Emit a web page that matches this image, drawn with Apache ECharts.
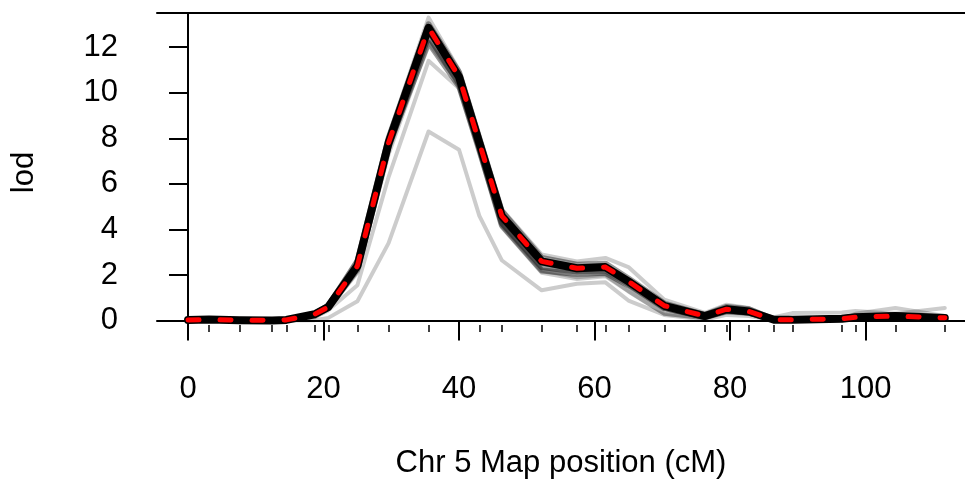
<!DOCTYPE html>
<html>
<head>
<meta charset="utf-8">
<script src="https://cdn.jsdelivr.net/npm/echarts@6/dist/echarts.min.js"></script>
<style>html,body{margin:0;padding:0;background:#fff}#c{width:965px;height:487px}</style>
</head>
<body>
<div id="c"></div>
<script>
// Marker positions (cM) on Chr 5
const positions = [0, 3.1, 7.6, 12.4, 14.5, 18.7, 20.7, 25.0, 29.6, 35.5, 40.0, 43.0, 46.3, 52.2, 57.4, 61.6, 65.0, 70.3, 76.3, 79.5, 82.8, 86.5, 89.2, 96.5, 98.5, 104.4, 111.7];
// Main LOD curve
const lodMain = [0.03, 0.05, 0.02, 0.01, 0.03, 0.28, 0.6, 2.4, 7.8, 12.85, 10.7, 7.8, 4.6, 2.6, 2.3, 2.35, 1.72, 0.65, 0.2, 0.5, 0.4, 0.04, 0.04, 0.08, 0.15, 0.2, 0.12];
// Light grey replicate curves (outliers)
const lodGrey1 = [0.0, 0.0, 0.0, 0.0, 0.0, 0.02, 0.12, 0.85, 3.4, 8.3, 7.5, 4.6, 2.65, 1.33, 1.62, 1.68, 0.88, 0.25, 0.05, 0.25, 0.2, 0.02, 0.02, 0.05, 0.08, 0.12, 0.08];
const lodGrey2 = [0.02, 0.03, 0.01, 0.0, 0.02, 0.15, 0.45, 1.55, 6.3, 11.4, 10.2, 7.3, 4.2, 2.2, 1.9, 2.0, 1.3, 0.3, 0.1, 0.35, 0.3, 0.03, 0.03, 0.06, 0.12, 0.18, 0.1];
const lodGrey3 = [0.04, 0.06, 0.03, 0.02, 0.05, 0.35, 0.7, 2.7, 8.1, 13.3, 11.0, 8.1, 4.9, 2.9, 2.6, 2.75, 2.35, 0.92, 0.34, 0.7, 0.55, 0.1, 0.1, 0.12, 0.2, 0.3, 0.15];
const lodGrey4 = [0.03, 0.05, 0.02, 0.01, 0.03, 0.28, 0.6, 2.4, 7.7, 12.6, 10.6, 7.6, 4.4, 2.5, 2.2, 2.3, 1.65, 0.6, 0.2, 0.45, 0.35, 0.15, 0.33, 0.36, 0.42, 0.3, 0.55];
const lodGrey5 = [0.02, 0.04, 0.02, 0.01, 0.02, 0.22, 0.52, 2.1, 7.3, 12.2, 10.4, 7.4, 4.1, 2.1, 1.83, 1.95, 1.28, 0.3, 0.1, 0.4, 0.3, 0.03, 0.03, 0.07, 0.3, 0.55, 0.2];
// Dark band replicate curves
const lodBand1 = [0.03, 0.05, 0.02, 0.01, 0.03, 0.3, 0.65, 2.6, 8.0, 13.0, 10.9, 8.0, 4.8, 2.75, 2.45, 2.5, 1.85, 0.75, 0.25, 0.6, 0.5, 0.05, 0.05, 0.1, 0.18, 0.24, 0.14];
const lodBand2 = [0.03, 0.05, 0.02, 0.01, 0.03, 0.25, 0.55, 2.25, 7.6, 12.5, 10.4, 7.6, 4.3, 2.35, 2.15, 2.2, 1.6, 0.55, 0.15, 0.42, 0.34, 0.03, 0.03, 0.07, 0.13, 0.18, 0.1];
const lodBand3 = [0.03, 0.05, 0.02, 0.01, 0.03, 0.27, 0.58, 2.35, 7.7, 12.2, 10.3, 7.5, 4.2, 2.2, 2.05, 2.1, 1.55, 0.55, 0.18, 0.45, 0.38, 0.04, 0.04, 0.08, 0.14, 0.19, 0.11];
const xTickValues = [0, 20, 40, 60, 80, 100];
const yTickValues = [0, 2, 4, 6, 8, 10, 12];

const pairs = v => positions.map((p, i) => [p, v[i]]);
const FONT = 'Liberation Sans, Arial, sans-serif';
const FS = 31;
const greyLine = (v, w, c) => ({type: 'line', data: pairs(v), symbol: 'none', silent: true, lineStyle: {color: c, width: w, join: 'round', cap: 'round'}, z: 2});
const XMIN = -4.58, XMAX = 114.68;

const chart = echarts.init(document.getElementById('c'), null, {renderer: 'canvas'});
chart.setOption({
  animation: false,
  backgroundColor: '#fff',
  grid: {left: 157, top: 13, right: 0, height: 319},
  xAxis: [
    {type: 'value', min: XMIN, max: XMAX, position: 'bottom',
     axisLine: {show: true, lineStyle: {color: '#000', width: 2}},
     axisTick: {show: true, inside: false, length: 20, customValues: xTickValues, lineStyle: {color: '#000', width: 2}},
     axisLabel: {show: true, customValues: xTickValues, margin: 42, fontSize: FS, color: '#000', fontFamily: FONT},
     splitLine: {show: false},
     name: 'Chr 5 Map position (cM)', nameLocation: 'middle', nameGap: 116,
     nameTextStyle: {fontSize: FS, color: '#000', fontFamily: FONT}},
    {type: 'value', min: XMIN, max: XMAX, position: 'bottom',
     axisLine: {show: false},
     axisTick: {show: true, inside: true, length: 7, customValues: positions, lineStyle: {color: '#000', width: 1.5}},
     axisLabel: {show: false}, splitLine: {show: false}},
    {type: 'value', min: XMIN, max: XMAX, position: 'top',
     axisLine: {show: true, lineStyle: {color: '#000', width: 2}},
     axisTick: {show: false}, axisLabel: {show: false}, splitLine: {show: false}}
  ],
  yAxis: [
    {type: 'value', min: -0.5, max: 13.5, position: 'left',
     axisLine: {show: true, lineStyle: {color: '#000', width: 2}},
     axisTick: {show: true, inside: false, length: 19, customValues: yTickValues, lineStyle: {color: '#000', width: 2}},
     axisLabel: {show: true, customValues: yTickValues, margin: 39, fontSize: FS, color: '#000', fontFamily: FONT},
     splitLine: {show: false},
     name: 'lod', nameLocation: 'middle', nameGap: 117, nameRotate: 90,
     nameTextStyle: {fontSize: FS, color: '#000', fontFamily: FONT}}
  ],
  series: [
    greyLine(lodGrey1, 4, 'rgba(0,0,0,0.2)'),
    greyLine(lodGrey2, 4, 'rgba(0,0,0,0.2)'),
    greyLine(lodGrey3, 4, 'rgba(0,0,0,0.2)'),
    greyLine(lodGrey4, 4, 'rgba(0,0,0,0.2)'),
    greyLine(lodGrey5, 4, 'rgba(0,0,0,0.2)'),
    greyLine(lodBand1, 6, 'rgba(0,0,0,0.4)'),
    greyLine(lodBand2, 6, 'rgba(0,0,0,0.4)'),
    greyLine(lodBand3, 6, 'rgba(0,0,0,0.4)'),
    {type: 'line', data: pairs(lodMain), symbol: 'none', silent: true, z: 3,
     lineStyle: {color: '#000', width: 8, join: 'round', cap: 'round'}},
    {type: 'line', data: pairs(lodMain), symbol: 'none', silent: true, z: 4,
     lineStyle: {color: '#ff0000', width: 5, type: [11, 21], cap: 'round', join: 'round'}}
  ]
});
</script>
</body>
</html>
